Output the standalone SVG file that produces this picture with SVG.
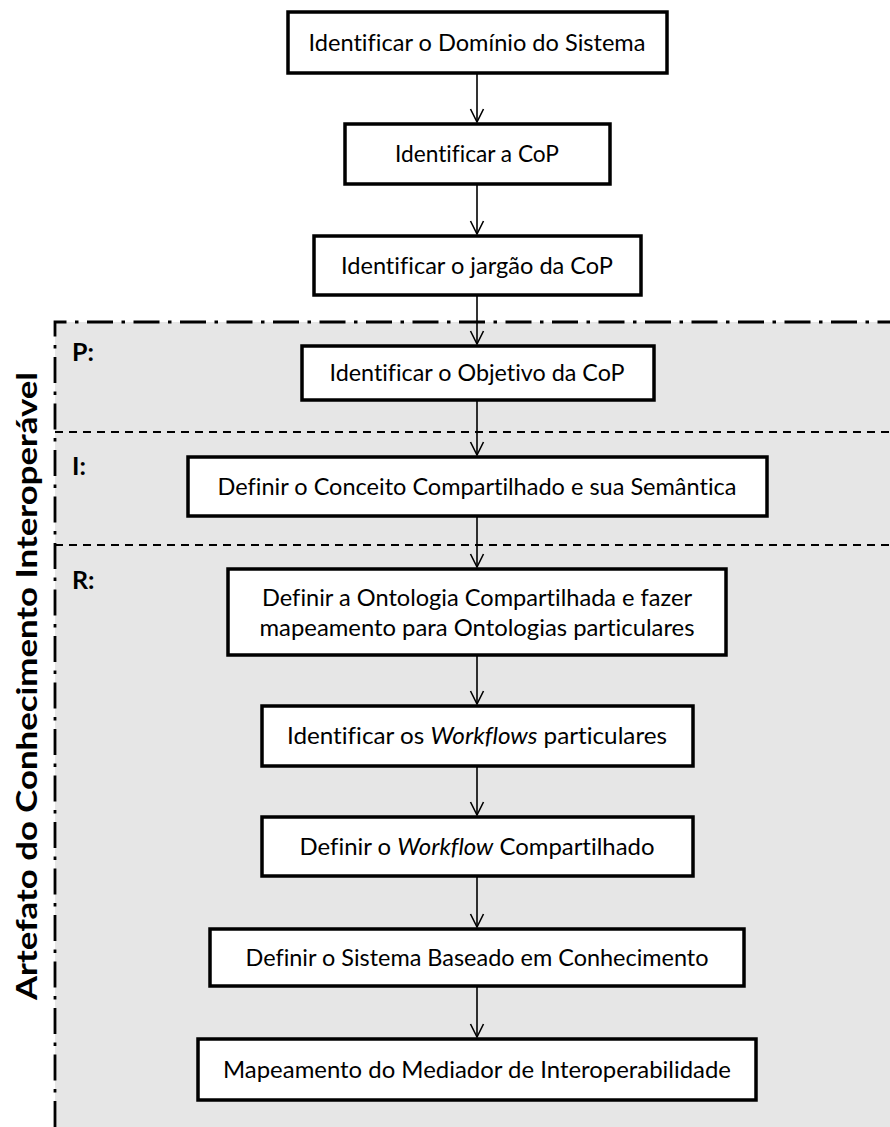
<svg xmlns="http://www.w3.org/2000/svg" width="890" height="1127" viewBox="0 0 890 1127">
<style>
.box{fill:#fff;stroke:#000;stroke-width:3.5}
.t{font-family:Lato,"Liberation Sans",sans-serif;font-size:23px;fill:#000;text-anchor:middle;font-variant-ligatures:none}
.sec{font-family:Lato,"Liberation Sans",sans-serif;font-size:25px;font-weight:bold;fill:#000}
.conn line{stroke:#000;stroke-width:1.6}
.dd{stroke:#000;stroke-width:1.8;stroke-dasharray:8 6;fill:none}
.dashdot{stroke:#000;stroke-width:2.8;fill:none;stroke-dasharray:26 8.5 3.5 8.5}
</style>
<defs>
<marker id="ah" markerUnits="userSpaceOnUse" markerWidth="20" markerHeight="20" refX="0" refY="0" viewBox="-15 -10 17 20" orient="auto">
<path d="M-13,-6.5 L0,0 L-13,6.5" fill="none" stroke="#000" stroke-width="1.6"/>
</marker>
</defs>
<rect width="890" height="1127" fill="#fff"/>
<g id="region">
<rect x="55" y="322" width="840" height="810" fill="#e6e6e6"/>
<path class="dashdot" d="M55,1127 L55,322 L890,322"/>
<line class="dd" x1="55" y1="432" x2="890" y2="432"/>
<line class="dd" x1="55" y1="545" x2="890" y2="545"/>
<text class="sec" x="72" y="361">P:</text>
<text class="sec" x="72" y="475">I:</text>
<text class="sec" x="72" y="589">R:</text>
<text transform="translate(37,686) rotate(-90)" font-family="Lato,'Liberation Sans',sans-serif" font-size="29" font-weight="bold" text-anchor="middle" textLength="628" lengthAdjust="spacingAndGlyphs" style="font-variant-ligatures:none">Artefato do Conhecimento Interoperável</text>
</g>
<g id="connectors" class="conn">
<line x1="477" y1="74" x2="477" y2="122" marker-end="url(#ah)"/>
<line x1="477" y1="185" x2="477" y2="234" marker-end="url(#ah)"/>
<line x1="477" y1="296" x2="477" y2="344" marker-end="url(#ah)"/>
<line x1="477" y1="401" x2="477" y2="455" marker-end="url(#ah)"/>
<line x1="477" y1="517" x2="477" y2="567" marker-end="url(#ah)"/>
<line x1="477" y1="656" x2="477" y2="704" marker-end="url(#ah)"/>
<line x1="477" y1="767" x2="477" y2="815" marker-end="url(#ah)"/>
<line x1="477" y1="877" x2="477" y2="927" marker-end="url(#ah)"/>
<line x1="477" y1="987" x2="477" y2="1037" marker-end="url(#ah)"/>
</g>
<g id="n1"><rect class="box" x="288" y="12" width="379" height="61"/><text class="t" x="477" y="51" textLength="337" lengthAdjust="spacingAndGlyphs">Identificar o Domínio do Sistema</text></g>
<g id="n2"><rect class="box" x="345" y="124" width="265" height="60"/><text class="t" x="477" y="162" textLength="164" lengthAdjust="spacingAndGlyphs">Identificar a CoP</text></g>
<g id="n3"><rect class="box" x="314" y="236" width="327" height="59"/><text class="t" x="477" y="274" textLength="272" lengthAdjust="spacingAndGlyphs">Identificar o jargão da CoP</text></g>
<g id="n4"><rect class="box" x="302" y="346" width="352" height="54"/><text class="t" x="477" y="381" textLength="295" lengthAdjust="spacingAndGlyphs">Identificar o Objetivo da CoP</text></g>
<g id="n5"><rect class="box" x="188" y="457" width="579" height="59"/><text class="t" x="477" y="495" textLength="519" lengthAdjust="spacingAndGlyphs">Definir o Conceito Compartilhado e sua Semântica</text></g>
<g id="n6"><rect class="box" x="228" y="569" width="498" height="86"/><text class="t" x="477" y="606" textLength="430" lengthAdjust="spacingAndGlyphs">Definir a Ontologia Compartilhada e fazer</text><text class="t" x="477" y="636" textLength="435" lengthAdjust="spacingAndGlyphs">mapeamento para Ontologias particulares</text></g>
<g id="n7"><rect class="box" x="262" y="706" width="431" height="60"/><text class="t" x="477" y="744" textLength="380" lengthAdjust="spacingAndGlyphs">Identificar os <tspan font-style="italic">Workflows</tspan> particulares</text></g>
<g id="n8"><rect class="box" x="262" y="817" width="431" height="59"/><text class="t" x="477" y="855" textLength="355" lengthAdjust="spacingAndGlyphs">Definir o <tspan font-style="italic">Workflow</tspan> Compartilhado</text></g>
<g id="n9"><rect class="box" x="210" y="929" width="534" height="57"/><text class="t" x="477" y="966" textLength="463" lengthAdjust="spacingAndGlyphs">Definir o Sistema Baseado em Conhecimento</text></g>
<g id="n10"><rect class="box" x="198" y="1039" width="558" height="61"/><text class="t" x="477" y="1078" textLength="508" lengthAdjust="spacingAndGlyphs">Mapeamento do Mediador de Interoperabilidade</text></g>
</svg>
